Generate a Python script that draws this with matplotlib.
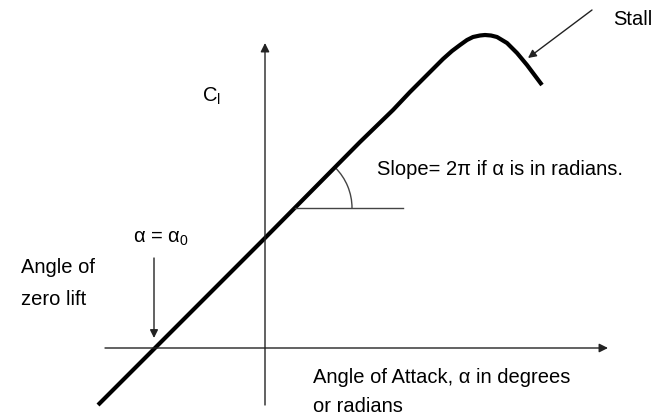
import matplotlib
matplotlib.use("Agg")
import matplotlib.pyplot as plt
from matplotlib.patches import Arc

plt.rcParams['font.family'] = ['Liberation Sans', 'DejaVu Sans']
plt.rcParams['mathtext.fontset'] = 'custom'
plt.rcParams['mathtext.rm'] = 'Liberation Sans'
plt.rcParams['mathtext.it'] = 'Liberation Sans:italic'

# Lift curve (arbitrary units)
alpha = [-16.7, -11.0, 0.0, 9.5, 12.8, 14.5, 16.2, 17.8, 18.7, 19.5, 20.2, 20.8,
         21.5, 22.0, 22.6, 23.2, 24.2, 25.2, 26.2, 27.7]
cl = [-5.7, 0.0, 11.0, 20.6, 23.8, 25.6, 27.3, 28.9, 29.7, 30.3, 30.8, 31.1,
      31.25, 31.3, 31.25, 31.1, 30.5, 29.5, 28.3, 26.3]

alpha_zero = -11.1
slope_ref = (3.0, 14.0)      # vertex of slope angle marker
slope_len = 10.8
slope_deg = 45
stall_pt = (26.3, 29.0)
stall_tail = (32.7, 33.8)

x_axis = (-16.0, 34.3)
y_axis = (-5.7, 30.5)

fs = 14.5

fig = plt.figure(figsize=(6.55, 4.15), dpi=100)
ax = fig.add_axes([0, 0, 1, 1])
ax.set_xlim(-26.5, 39.0)
ax.set_ylim(-6.7, 34.8)
ax.axis('off')

axis_col = '#222222'
ap = dict(arrowstyle='-|>', lw=1.0, color=axis_col, mutation_scale=13,
          shrinkA=0, shrinkB=0)
ax.annotate('', xy=(x_axis[1], 0), xytext=(x_axis[0], 0), arrowprops=ap)
ax.annotate('', xy=(0, y_axis[1]), xytext=(0, y_axis[0]), arrowprops=ap)

ax.plot(alpha, cl, color='black', lw=3.0, solid_capstyle='butt',
        solid_joinstyle='round')

# slope marker
ax.plot([slope_ref[0], slope_ref[0] + slope_len], [slope_ref[1]] * 2,
        color='#444444', lw=1.0)
ax.add_patch(Arc(slope_ref, 11.4, 11.4, theta1=0, theta2=slope_deg,
                 color='#444444', lw=1.0))

# zero lift arrow
ax.annotate('', xy=(alpha_zero, 1.0), xytext=(alpha_zero, 9.0),
            arrowprops=dict(arrowstyle='-|>', lw=1.0, color=axis_col,
                            mutation_scale=12, shrinkA=0, shrinkB=0))

# stall arrow
ax.annotate('', xy=stall_pt, xytext=stall_tail,
            arrowprops=dict(arrowstyle='-|>', lw=1.0, color=axis_col,
                            mutation_scale=12, shrinkA=0, shrinkB=0))

kw = dict(fontsize=fs, color='black', ha='left', va='baseline')
ax.text(-6.3, 24.6, r'C$_{\mathrm{l}}$', **kw)
ax.text(-13.2, 10.5, r'α = α$_{\mathrm{0}}$', **kw)
ax.text(-24.4, 7.5, 'Angle of', **kw)
ax.text(-24.4, 4.3, 'zero lift', **kw)
ax.text(11.2, 17.3, 'Slope= 2π if α is in radians.', **kw)
ax.text(34.8, 32.3, 'Stall', **kw)
ax.text(4.8, -3.5, 'Angle of Attack, α in degrees', **kw)
ax.text(4.8, -6.4, 'or radians', **kw)

fig.savefig('out.png', dpi=100, facecolor='white')
